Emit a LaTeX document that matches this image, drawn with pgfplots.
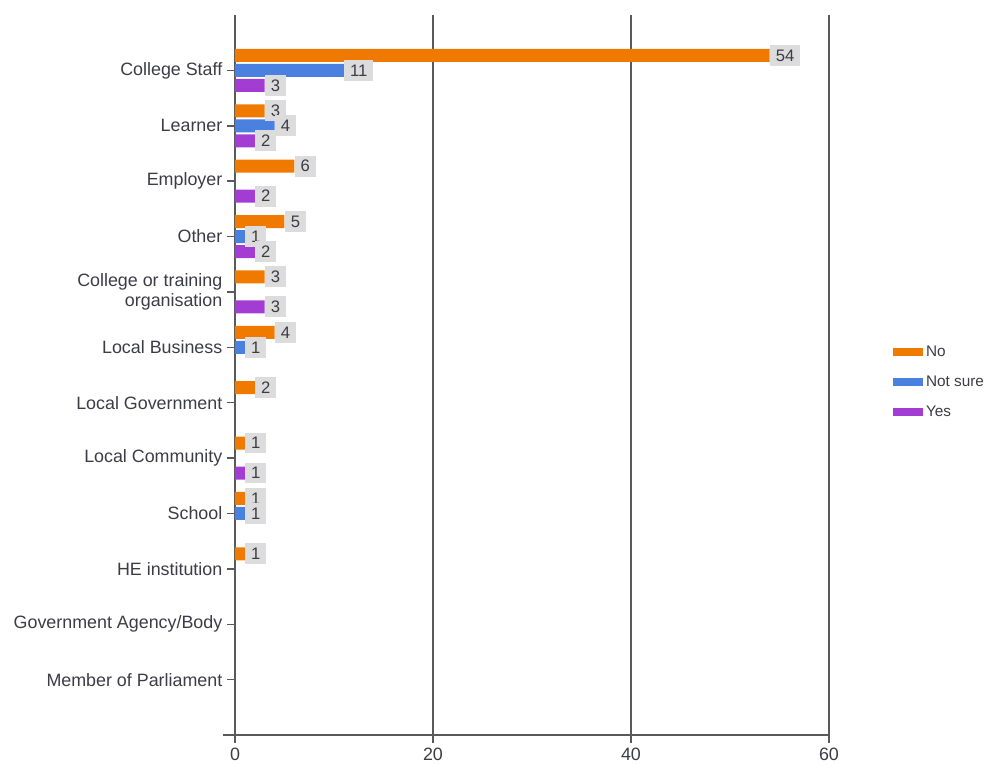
\documentclass[border=0pt]{standalone}
\usepackage{pgfplots}
\pgfplotsset{compat=1.18}
\usepackage{fontspec}
\setmainfont{Liberation Sans}
\definecolor{cNo}{HTML}{F07A00}
\definecolor{cNS}{HTML}{4A80E0}
\definecolor{cYes}{HTML}{A23CD2}
\definecolor{txt}{HTML}{3C3C46}
\definecolor{axc}{HTML}{5A5A5A}
\definecolor{lbl}{HTML}{DCDCDC}
\begin{document}
\begin{tikzpicture}
\begin{axis}[name=ax,
 scale only axis, width=445.5pt, height=540pt,
 xbar, bar width=9.75pt,
 xmin=0, xmax=60, ymin=-1, ymax=12, y dir=reverse,
 axis x line=bottom, axis y line=left,
 axis line style={axc, line width=1.1pt, -},
 x axis line style={shorten <=-9pt},
 xtick={0,20,40,60}, ytick={0,...,11},
 yticklabels={College Staff, Learner, Employer, Other, {College or training\\organisation}, Local Business, Local Government, Local Community, School, HE institution, Government Agency/Body, Member of Parliament},
 yticklabel style={align=right, font=\fontsize{13.4}{15}\selectfont, text=txt},
 xticklabel style={font=\fontsize{13.4}{15}\selectfont, text=txt},
 /pgf/number format/assume math mode=true,
 xmajorgrids, grid style={axc, line width=1.1pt},
 tick style={axc, line width=1.1pt},
 tick align=outside, major tick length=6pt,
 nodes near coords,
 nodes near coords style={fill=lbl, text=txt, font=\fontsize{12.5}{14}\selectfont, inner xsep=4.5pt, inner ysep=3.5pt, anchor=west, /pgf/number format/assume math mode=true},
 legend style={at={(1.1,0.49)}, anchor=west, draw=none, fill=none, font=\fontsize{11.5}{13}\selectfont, text=txt, row sep=9pt},
 legend cell align=left,
 legend image code/.code={\fill[#1] (0pt,-3pt) rectangle (23pt,3pt);},
]
\addplot[fill=cNo, draw=none, bar shift=11.25pt] coordinates {(54,0) (3,1) (6,2) (5,3) (3,4) (4,5) (2,6) (1,7) (1,8) (1,9)};
\addplot[fill=cNS, draw=none, bar shift=0pt] coordinates {(11,0) (4,1) (1,3) (1,5) (1,8)};
\addplot[fill=cYes, draw=none, bar shift=-11.25pt] coordinates {(3,0) (2,1) (2,2) (2,3) (3,4) (1,7)};
\legend{No, Not sure, Yes}
\end{axis}
\path ([shift={(-176.25pt,-22.5pt)}]ax.south west) rectangle ([shift={(121.5pt,11.25pt)}]ax.north east);
\end{tikzpicture}
\end{document}
